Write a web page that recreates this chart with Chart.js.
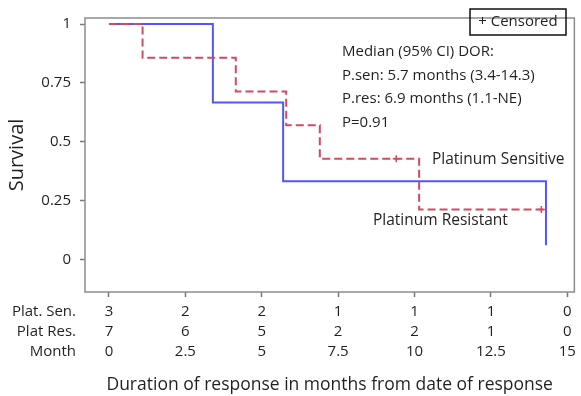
<!DOCTYPE html>
<html>
<head>
<meta charset="utf-8">
<script src="https://cdn.jsdelivr.net/npm/chart.js@4"></script>
<style>
  html, body { margin: 0; padding: 0; background: #fff; }
  #wrap { width: 581px; height: 396px; position: relative; }
</style>
</head>
<body>
<div id="wrap"><canvas id="km"></canvas></div>
<script>
// --- Data ---
const senTimes = [0, 3.4, 5.7, 14.3];
const senSurv = [1, 0.667, 0.333, 0.062];
const resTimes = [0, 1.1, 4.15, 5.8, 6.9, 10.15, 14.25];
const resSurv = [1, 0.857, 0.714, 0.571, 0.429, 0.214, 0.214];
const resCensorTimes = [9.4, 14.15];
const resCensorSurv = [0.429, 0.214];

const monthTicks = [0, 2.5, 5, 7.5, 10, 12.5, 15];
const atRiskSen = [3, 2, 2, 1, 1, 1, 0];
const atRiskRes = [7, 6, 5, 2, 2, 1, 0];
const survTicks = [0, 0.25, 0.5, 0.75, 1];
const rowLabels = ["Plat. Sen.", "Plat Res.", "Month"];

const medianLines = [
  "Median (95% CI) DOR:",
  "P.sen: 5.7 months (3.4-14.3)",
  "P.res: 6.9 months (1.1-NE)",
  "P=0.91"
];

const FONT = "'Open Sans', sans-serif";
const TXT = "#231f20";
const BLUE = "#5454fb";
const RED = "#d14a62";
const ROW_H = 19.7;

const toPts = (xs, ys) => xs.map((x, i) => ({ x: x, y: ys[i] }));

// --- Box, risk-table row labels and annotations ---
const extras = {
  id: "extras",
  beforeDatasetsDraw(chart) {
    const { ctx, chartArea: a } = chart;
    ctx.save();
    ctx.strokeStyle = "#8c8c8c";
    ctx.lineWidth = 1.5;
    ctx.strokeRect(a.left, a.top, a.right - a.left, a.bottom - a.top);
    ctx.restore();
  },
  afterDraw(chart) {
    const { ctx, chartArea: a } = chart;
    ctx.save();
    ctx.fillStyle = TXT;
    ctx.textBaseline = "middle";

    // row labels of the number-at-risk table
    ctx.font = "15px " + FONT;
    ctx.textAlign = "right";
    rowLabels.forEach((t, i) => ctx.fillText(t, 76, a.bottom + 20 + i * ROW_H));

    // censored legend box
    ctx.textAlign = "center";
    ctx.strokeStyle = "#111";
    ctx.lineWidth = 1.5;
    ctx.strokeRect(470, 9, 96, 26);
    ctx.fillText("+ Censored", 518, 22);

    // median text
    ctx.textAlign = "left";
    medianLines.forEach((t, i) => ctx.fillText(t, 342, 52 + i * 23.5));

    // curve labels
    ctx.font = "15.5px " + FONT;
    ctx.fillText("Platinum Sensitive", 432, 160);
    ctx.fillText("Platinum Resistant", 373, 221);
    ctx.restore();
  }
};

new Chart(document.getElementById("km"), {
  type: "line",
  data: {
    datasets: [
      {
        label: "Platinum Sensitive",
        data: toPts(senTimes, senSurv),
        stepped: "before",
        borderColor: BLUE,
        borderWidth: 2,
        pointRadius: 0,
        fill: false,
        order: 2
      },
      {
        label: "Platinum Resistant",
        data: toPts(resTimes, resSurv),
        stepped: "before",
        borderColor: RED,
        borderWidth: 2,
        borderDash: [8, 4],
        pointRadius: 0,
        fill: false,
        order: 1
      },
      {
        label: "Censored",
        data: toPts(resCensorTimes, resCensorSurv),
        showLine: false,
        pointStyle: "cross",
        pointRadius: 3.5,
        borderColor: RED,
        borderWidth: 1.5,
        order: 0
      }
    ]
  },
  options: {
    responsive: true,
    maintainAspectRatio: false,
    animation: false,
    layout: { padding: { top: 6, right: 6, left: 0, bottom: 0 } },
    plugins: {
      legend: { display: false },
      tooltip: { enabled: false }
    },
    scales: {
      x: {
        type: "linear",
        min: -0.784,
        max: 15.23,
        afterFit: s => { s.height = 104; },
        afterBuildTicks: s => { s.ticks = monthTicks.map(v => ({ value: v })); },
        grid: { drawOnChartArea: false, tickLength: 5, tickColor: "#777", tickWidth: 1.5 },
        border: { display: false },
        ticks: {
          maxRotation: 0,
          autoSkip: false,
          padding: 5,
          color: TXT,
          font: { family: FONT, size: 15, lineHeight: ROW_H + "px" },
          callback: (v, i) => [String(atRiskSen[i]), String(atRiskRes[i]), String(monthTicks[i])]
        },
        title: {
          display: true,
          text: "Duration of response in months from date of response",
          color: TXT,
          font: { family: FONT, size: 17.5 },
          padding: { top: 4, bottom: 0 }
        }
      },
      y: {
        min: -0.136,
        max: 1.0255,
        afterFit: s => { s.width = 85; },
        afterBuildTicks: s => { s.ticks = survTicks.map(v => ({ value: v })); },
        grid: { drawOnChartArea: false, tickLength: 5, tickColor: "#777", tickWidth: 1.5 },
        border: { display: false },
        ticks: {
          padding: 9,
          color: TXT,
          font: { family: FONT, size: 15 },
          callback: v => String(v)
        },
        title: {
          display: true,
          text: "Survival",
          color: TXT,
          font: { family: FONT, size: 20 },
          padding: { top: 5, bottom: 0 }
        }
      }
    }
  },
  plugins: [extras]
});
</script>
</body>
</html>
